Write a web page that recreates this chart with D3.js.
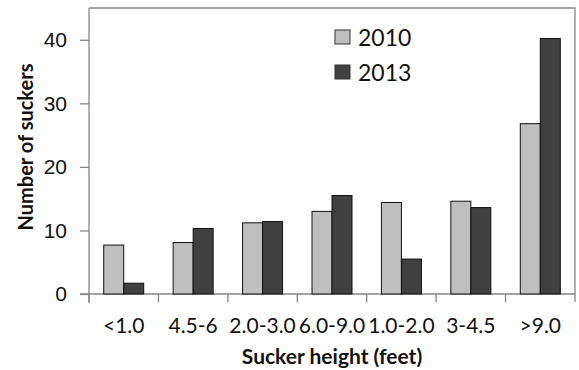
<!DOCTYPE html>
<html lang="en">
<head>
<meta charset="UTF-8" />
<title>Sucker height</title>
<script src="https://cdn.jsdelivr.net/npm/d3@7"></script>
<style>
  body { margin: 0; background: #fff; }
  svg { display: block; font-family: Lato, "Open Sans", sans-serif; }
  .axis path, .axis line { stroke: #868686; }
  .axis text { font-size: 21px; fill: #111; }
</style>
</head>
<body>
<div id="chart"></div>
<script>
// data
var categories = ["<1.0", "4.5-6", "2.0-3.0", "6.0-9.0", "1.0-2.0", "3-4.5", ">9.0"];
var years = ["2010", "2013"];
var values2010 = [7.7, 8.1, 11.2, 13.0, 14.4, 14.6, 26.8];
var values2013 = [1.7, 10.3, 11.4, 15.5, 5.5, 13.6, 40.2];
var yTicks = [0, 10, 20, 30, 40];

var W = 579, H = 370;
var mLeft = 89, mRight = 575, mTop = 8, mBottom = 294;
var colors = { "2010": "#bfbfbf", "2013": "#404040" };

var svg = d3.select("#chart").append("svg")
  .attr("width", W).attr("height", H);

var x = d3.scaleBand().domain(categories).range([mLeft, mRight]).padding(0);
var xSub = d3.scaleBand().domain(years).range([-20, 20]).padding(0);
var y = d3.scaleLinear().domain([0, 45]).range([mBottom, mTop]);

// frame (top and right)
svg.append("path")
  .attr("d", "M" + mLeft + "," + mTop + "H" + mRight + "V" + mBottom)
  .attr("fill", "none").attr("stroke", "#868686").attr("stroke-width", 1.3);

// y axis
var yAxis = svg.append("g").attr("class", "axis")
  .attr("transform", "translate(" + mLeft + ",0)")
  .call(d3.axisLeft(y).tickValues(yTicks).tickSize(9).tickSizeOuter(0).tickPadding(13));
yAxis.select(".domain").attr("d", "M0," + mTop + "V" + (mBottom + 9)).attr("stroke-width", 1.3);
yAxis.selectAll(".tick line").attr("stroke-width", 1.3);

// x axis: ticks on band edges
var edges = categories.map(function(c) { return x(c); }).concat([mRight]);
var xAxisG = svg.append("g").attr("class", "axis");
xAxisG.append("line")
  .attr("x1", mLeft - 9).attr("x2", mRight)
  .attr("y1", mBottom).attr("y2", mBottom).attr("stroke-width", 1.3);
xAxisG.selectAll("line.tk").data(edges).enter().append("line")
  .attr("class", "tk")
  .attr("x1", function(d) { return d; }).attr("x2", function(d) { return d; })
  .attr("y1", mBottom).attr("y2", mBottom + 8).attr("stroke-width", 1.3);
xAxisG.selectAll("text").data(categories).enter().append("text")
  .attr("x", function(d) { return x(d) + x.bandwidth() / 2; })
  .attr("y", 333)
  .attr("text-anchor", "middle")
  .text(function(d) { return d; });

// bars
var rows = categories.map(function(c, i) {
  return { cat: c, vals: [{ year: "2010", v: values2010[i] }, { year: "2013", v: values2013[i] }] };
});
var groups = svg.selectAll("g.cat").data(rows).enter().append("g")
  .attr("class", "cat")
  .attr("transform", function(d) { return "translate(" + (x(d.cat) + x.bandwidth() / 2) + ",0)"; });
groups.selectAll("rect").data(function(d) { return d.vals; }).enter().append("rect")
  .attr("x", function(d) { return xSub(d.year); })
  .attr("y", function(d) { return y(d.v); })
  .attr("width", xSub.bandwidth())
  .attr("height", function(d) { return y(0) - y(d.v); })
  .attr("fill", function(d) { return colors[d.year]; })
  .attr("stroke", "#111").attr("stroke-width", 1);

// legend
var legend = svg.selectAll("g.legend").data(years).enter().append("g")
  .attr("class", "legend")
  .attr("transform", function(d, i) { return "translate(335," + (30 + i * 35) + ")"; });
legend.append("rect")
  .attr("width", 15).attr("height", 14)
  .attr("fill", function(d) { return colors[d]; })
  .attr("stroke", "#333").attr("stroke-width", 1);
legend.append("text")
  .attr("x", 23).attr("y", 15.5)
  .style("font-size", "23px").attr("fill", "#111")
  .text(function(d) { return d; });

// axis titles
svg.append("text")
  .attr("x", 332).attr("y", 364)
  .attr("text-anchor", "middle")
  .style("font-size", "21px").style("font-weight", "bold").attr("fill", "#111")
  .text("Sucker height (feet)");

svg.append("text")
  .attr("transform", "translate(33,147) rotate(-90)")
  .attr("text-anchor", "middle")
  .style("font-size", "20px").style("font-weight", "bold").attr("fill", "#111")
  .text("Number of suckers");
</script>
</body>
</html>
